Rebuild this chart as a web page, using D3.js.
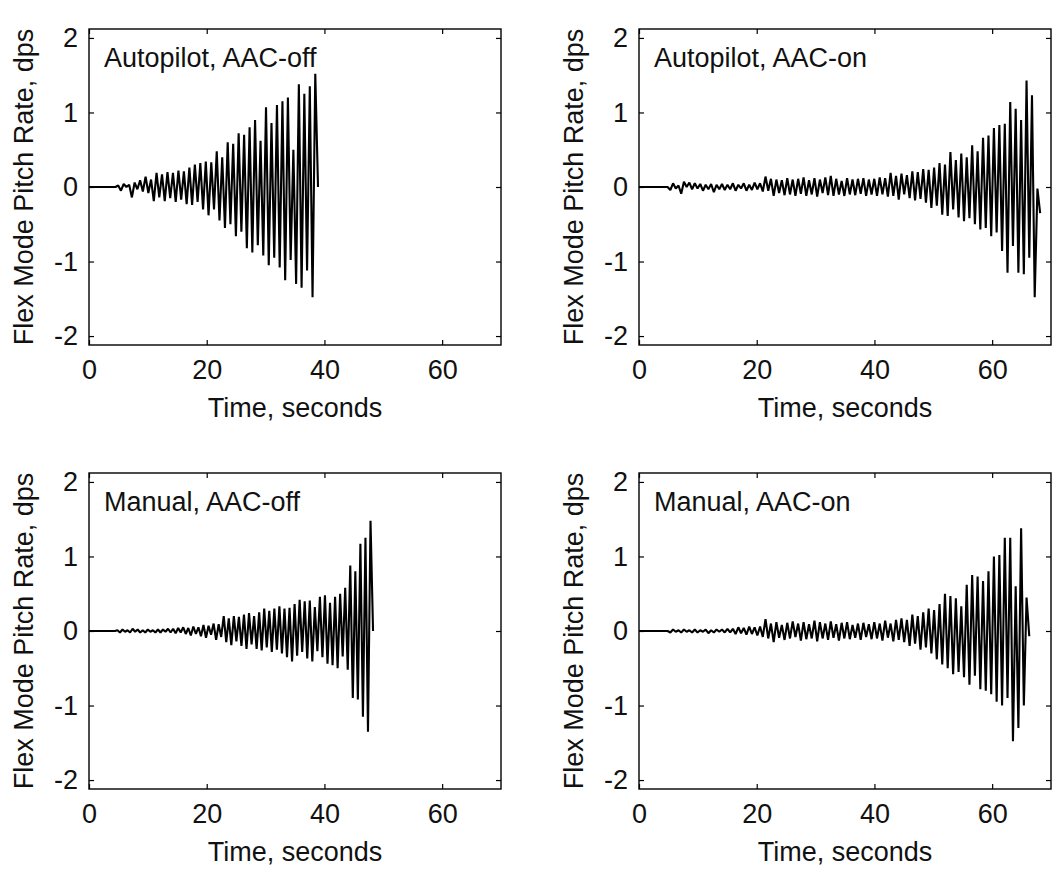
<!DOCTYPE html>
<html>
<head>
<meta charset="utf-8">
<script src="https://cdn.jsdelivr.net/npm/d3@7"></script>
<style>
  body { margin: 0; background: #fff; }
  text { font-family: 'Liberation Sans', Arial, sans-serif; fill: #111; }
</style>
</head>
<body>
<div id="chart"></div>
<script>

var time_ticks = [0, 20, 40, 60]
var rate_ticks = [-2, -1, 0, 1, 2]

var panel_titles = ['Autopilot, AAC-off', 'Autopilot, AAC-on', 'Manual, AAC-off', 'Manual, AAC-on']

// each trace is flat (0 dps) until *_start, then one reading every *_dt seconds
// (crest, trough, crest, trough ...)

var ap_off_start = 4.5
var ap_off_dt = 0.465
var ap_off_rate = [
  0.02, -0.05, 0.04, 0.0, 0.03, -0.14, 0.06, -0.03, 0.09, -0.06,
  0.14, -0.08, 0.1, -0.19, 0.19, -0.14, 0.17, -0.19, 0.2, -0.15,
  0.19, -0.2, 0.22, -0.17, 0.21, -0.23, 0.26, -0.24, 0.3, -0.2,
  0.32, -0.3, 0.34, -0.38, 0.33, -0.3, 0.48, -0.45, 0.4, -0.55,
  0.6, -0.5, 0.58, -0.66, 0.72, -0.6, 0.7, -0.82, 0.8, -0.88,
  0.9, -0.78, 0.62, -0.92, 1.07, -1.05, 0.86, -0.95, 1.1, -1.08,
  1.15, -1.25, 1.2, -0.98, 0.5, -1.3, 1.38, -1.35, 1.25, -1.12,
  1.35, -1.48, 1.52, 0.0
]

var ap_on_start = 4.4
var ap_on_dt = 0.462
var ap_on_rate = [
  0.0, -0.04, 0.05, -0.02, 0.02, -0.09, 0.07, 0.0, 0.06, -0.03,
  0.05, -0.02, 0.04, -0.05, 0.03, -0.03, 0.04, -0.07, 0.03, -0.03,
  0.04, -0.04, 0.03, -0.03, 0.05, -0.05, 0.03, -0.02, 0.05, -0.05,
  0.03, -0.04, 0.06, -0.03, 0.05, -0.06, 0.14, -0.05, 0.11, -0.12,
  0.1, -0.08, 0.09, -0.11, 0.12, -0.1, 0.1, -0.12, 0.11, -0.09,
  0.13, -0.12, 0.09, -0.1, 0.12, -0.13, 0.1, -0.08, 0.13, -0.11,
  0.15, -0.12, 0.11, -0.1, 0.08, -0.12, 0.12, -0.1, 0.1, -0.11,
  0.11, -0.09, 0.12, -0.12, 0.1, -0.1, 0.11, -0.12, 0.13, -0.1,
  0.12, -0.13, 0.19, -0.12, 0.15, -0.17, 0.18, -0.1, 0.16, -0.15,
  0.21, -0.18, 0.2, -0.16, 0.24, -0.21, 0.23, -0.28, 0.26, -0.25,
  0.32, -0.37, 0.3, -0.39, 0.47, -0.3, 0.36, -0.41, 0.45, -0.46,
  0.4, -0.42, 0.56, -0.5, 0.48, -0.57, 0.66, -0.55, 0.69, -0.66,
  0.79, -0.61, 0.83, -0.86, 0.85, -1.15, 1.14, -0.79, 1.05, -1.15,
  0.9, -1.17, 1.43, -0.95, 1.23, -1.48, -0.02, -0.35
]

var man_off_start = 4.4
var man_off_dt = 0.43
var man_off_rate = [
  0.01, -0.02, 0.02, -0.01, 0.01, -0.02, 0.03, -0.01, 0.02, -0.02,
  0.01, -0.02, 0.02, -0.01, 0.01, -0.02, 0.02, -0.02, 0.02, -0.01,
  0.03, -0.02, 0.03, -0.03, 0.04, -0.02, 0.05, -0.04, 0.04, -0.06,
  0.06, -0.04, 0.05, -0.07, 0.08, -0.09, 0.07, -0.05, 0.1, -0.12,
  0.09, -0.08, 0.2, -0.15, 0.17, -0.19, 0.2, -0.14, 0.19, -0.2,
  0.22, -0.24, 0.24, -0.18, 0.2, -0.24, 0.25, -0.26, 0.3, -0.22,
  0.27, -0.28, 0.3, -0.25, 0.33, -0.3, 0.3, -0.35, 0.31, -0.41,
  0.36, -0.33, 0.42, -0.28, 0.4, -0.37, 0.41, -0.41, 0.32, -0.27,
  0.46, -0.35, 0.48, -0.44, 0.38, -0.46, 0.46, -0.5, 0.5, -0.34,
  0.58, -0.52, 0.88, -0.9, 0.8, -0.92, 1.17, -1.15, 1.25, -1.35,
  1.48, 0.0
]

var man_on_start = 4.4
var man_on_dt = 0.462
var man_on_rate = [
  0.0, -0.02, 0.02, -0.01, 0.01, -0.02, 0.02, -0.01, 0.01, -0.02,
  0.02, -0.02, 0.01, -0.01, 0.02, -0.03, 0.01, -0.02, 0.02, -0.01,
  0.02, -0.02, 0.03, -0.02, 0.03, -0.04, 0.05, -0.03, 0.04, -0.05,
  0.06, -0.04, 0.05, -0.06, 0.06, -0.08, 0.16, -0.1, 0.1, -0.15,
  0.12, -0.09, 0.08, -0.12, 0.11, -0.1, 0.13, -0.08, 0.1, -0.13,
  0.12, -0.11, 0.09, -0.1, 0.14, -0.14, 0.12, -0.1, 0.1, -0.12,
  0.13, -0.09, 0.09, -0.13, 0.11, -0.1, 0.12, -0.11, 0.08, -0.09,
  0.1, -0.12, 0.11, -0.08, 0.09, -0.11, 0.12, -0.1, 0.1, -0.13,
  0.14, -0.09, 0.1, -0.14, 0.15, -0.12, 0.17, -0.15, 0.15, -0.2,
  0.22, -0.17, 0.2, -0.25, 0.25, -0.22, 0.3, -0.3, 0.28, -0.38,
  0.36, -0.45, 0.5, -0.5, 0.47, -0.58, 0.44, -0.55, 0.33, -0.62,
  0.62, -0.72, 0.75, -0.6, 0.73, -0.78, 0.67, -0.8, 0.8, -0.85,
  1.0, -0.95, 1.02, -1.0, 1.25, -0.9, 1.25, -1.48, 0.6, -1.3,
  1.38, -1.0, 0.45, -0.07
]

var panels = [
  { title: panel_titles[0], start: ap_off_start, dt: ap_off_dt, rate: ap_off_rate, left: 89, top: 29 },
  { title: panel_titles[1], start: ap_on_start, dt: ap_on_dt, rate: ap_on_rate, left: 639, top: 29 },
  { title: panel_titles[2], start: man_off_start, dt: man_off_dt, rate: man_off_rate, left: 89, top: 473 },
  { title: panel_titles[3], start: man_on_start, dt: man_on_dt, rate: man_on_rate, left: 639, top: 473 }
]

var plot_w = 412
var plot_h = 316
var font_size = '27px'

var svg = d3.select('#chart').append('svg')
  .attr('width', 1060)
  .attr('height', 871)

function trace_points(p) {
  var pts = [[0, 0], [p.start, 0]]
  p.rate.forEach(function(v, i) {
    pts.push([p.start + (i + 1) * p.dt, v])
  })
  return pts
}

panels.forEach(function(p) {

  var g = svg.append('g')
    .attr('transform', 'translate(' + p.left + ',' + p.top + ')')

  var x = d3.scaleLinear().domain([0, 70]).range([0, plot_w])
  var y = d3.scaleLinear().domain([-2.12, 2.12]).range([plot_h, 0])

  // inward ticks on all four sides, matlab style
  g.append('g')
    .attr('transform', 'translate(0,' + plot_h + ')')
    .call(d3.axisBottom(x).tickValues(time_ticks).tickSize(-5).tickSizeOuter(0).tickPadding(15).tickFormat(String))
  g.append('g')
    .call(d3.axisTop(x).tickValues(time_ticks).tickSize(-5).tickSizeOuter(0).tickFormat(''))
  g.append('g')
    .call(d3.axisLeft(y).tickValues(rate_ticks).tickSize(-5).tickSizeOuter(0).tickPadding(11).tickFormat(String))
  g.append('g')
    .attr('transform', 'translate(' + plot_w + ',0)')
    .call(d3.axisRight(y).tickValues(rate_ticks).tickSize(-5).tickSizeOuter(0).tickFormat(''))

  g.selectAll('.domain').remove()
  g.selectAll('.tick line').attr('stroke', '#000').attr('stroke-width', 1.2)
  g.selectAll('.tick text')
    .style('font-size', font_size)
    .style('font-family', "'Liberation Sans', Arial, sans-serif")
    .attr('fill', '#111')

  g.append('path')
    .datum(trace_points(p))
    .attr('fill', 'none')
    .attr('stroke', '#000')
    .attr('stroke-width', 2.1)
    .attr('stroke-linejoin', 'bevel')
    .attr('d', d3.line()
      .x(function(d) { return x(d[0]) })
      .y(function(d) { return y(d[1]) }))

  g.append('rect')
    .attr('x', 0)
    .attr('y', 0)
    .attr('width', plot_w)
    .attr('height', plot_h)
    .attr('fill', 'none')
    .attr('stroke', '#000')
    .attr('stroke-width', 1.4)

  g.append('text')
    .attr('x', 15)
    .attr('y', 38)
    .style('font-size', font_size)
    .text(p.title)

  g.append('text')
    .attr('x', plot_w / 2)
    .attr('y', 388)
    .attr('text-anchor', 'middle')
    .style('font-size', font_size)
    .text('Time, seconds')

  g.append('text')
    .attr('transform', 'translate(-56,' + (plot_h / 2) + ') rotate(-90)')
    .attr('text-anchor', 'middle')
    .style('font-size', font_size)
    .text('Flex Mode Pitch Rate, dps')

})

</script>
</body>
</html>
